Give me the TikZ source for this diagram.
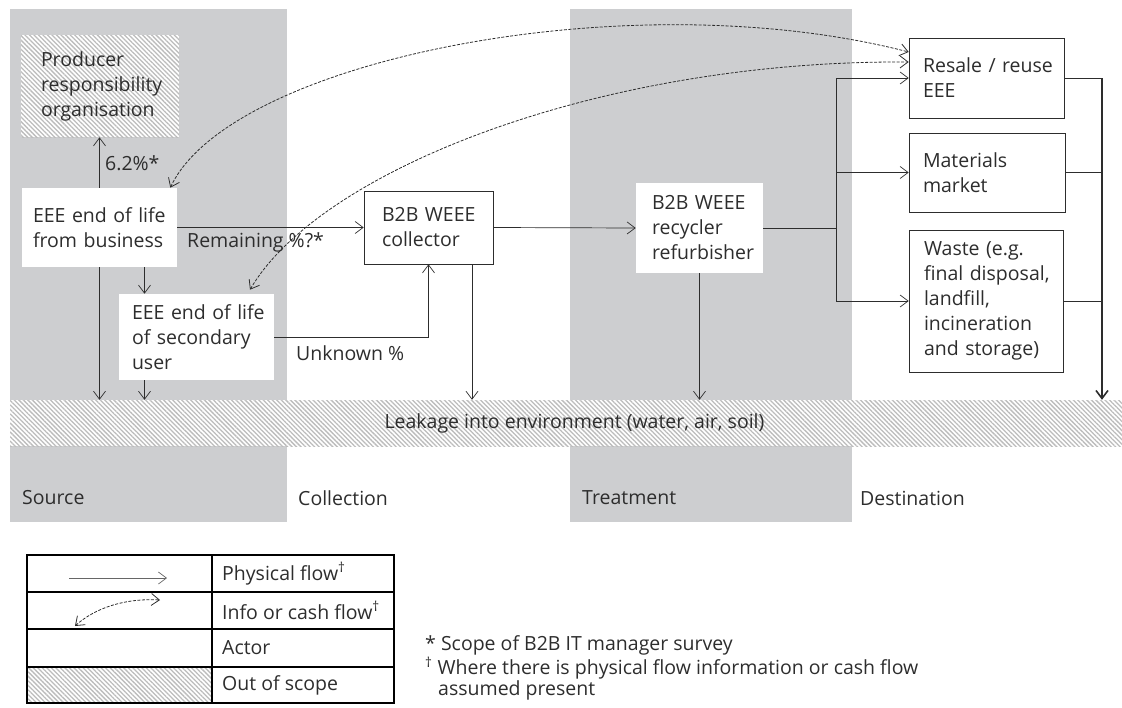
\documentclass[tikz,border=0pt]{standalone}
\usepackage{fontspec}
\setmainfont{Open Sans}
\usetikzlibrary{arrows.meta,patterns.meta}
\definecolor{colgrey}{RGB}{205,206,208}
\definecolor{ink}{RGB}{45,45,45}
\definecolor{hatchgrey}{RGB}{188,188,188}
\begin{document}
\begin{tikzpicture}[x=1pt,y=-1pt,>={Straight Barb[length=8pt,width=12pt]},
  every node/.style={font=\fontsize{19.5}{25}\selectfont, text=ink},
  actor/.style={rectangle, fill=white, draw=ink, line width=0.6pt, align=left, inner sep=0pt},
  greyactor/.style={actor, draw=none},
  hatched/.style={fill=white, postaction={pattern={Lines[angle=-45,distance=3.2pt,line width=1.3pt]}, pattern color=hatchgrey}},
  flow/.style={->, draw=ink, line width=0.7pt},
  cash/.style={<->, draw=ink, line width=0.8pt, dash pattern=on 3pt off 1.5pt},
  lbl/.style={anchor=west, inner sep=0pt}]
  \useasboundingbox (0,0) rectangle (1122,707);
  \clip (0,0) rectangle (1122,707);
  \fill[colgrey] (10,9) rectangle (287,522);
  \fill[colgrey] (570,9) rectangle (852,522);
  \node[lbl] (srcl) at (22,498) {Source};
  \node[lbl] (coll) at (298,498) {Collection};
  \node[lbl] (trtl) at (582,498) {Treatment};
  \node[lbl] (dstl) at (860,498) {Destination};
  \node[greyactor, hatched, minimum width=158pt, minimum height=102pt, text width=118pt] (pro) at (100,86) {Producer\\\mbox{responsibility}\\organisation};
  \node[greyactor, minimum width=155pt, minimum height=79pt, text width=133pt] (bus) at (99.5,227.5) {\mbox{EEE end of life}\\\mbox{from business}};
  \node[greyactor, minimum width=155pt, minimum height=86pt, text width=129pt] (sec) at (196.5,337) {\mbox{EEE end of life}\\\mbox{of secondary}\\user};
  \node[actor, minimum width=129pt, minimum height=73pt, text width=93pt] (col) at (428.5,227.5) {\mbox{B2B WEEE}\\collector};
  \node[greyactor, minimum width=127pt, minimum height=90pt, text width=95pt] (rec) at (699.5,228) {\mbox{B2B WEEE}\\recycler\\\mbox{refurbisher}};
  \node[actor, minimum width=155pt, minimum height=80pt, text width=127pt] (res) at (986.5,78) {\mbox{Resale / reuse}\\EEE};
  \node[actor, minimum width=156pt, minimum height=79pt, text width=128pt] (mat) at (987,172.5) {Materials\\market};
  \node[actor, minimum width=154pt, minimum height=142pt, text width=124pt] (was) at (986,301) {\mbox{Waste (e.g.}\\\mbox{final disposal,}\\landfill,\\\mbox{incineration}\\\mbox{and storage)}};
  \node[hatched, minimum width=1129pt, minimum height=46pt, inner sep=0pt] (leak) at (574.5,423) {Leakage into environment (water, air, soil)};
  \draw[flow] (bus.north) -- (bus.north |- pro.south);
  \node[lbl] (pct) at (105,163) {6.2\%*};
  \draw[flow] (bus.east) -- (col.west);
  \node[lbl] (rem) at (187,242) {Remaining \%?*};
  \draw[flow] ([xshift=45pt]bus.south) coordinate (b2) -- (b2 |- sec.north);
  \draw[flow] (bus.south) -- (bus.south |- leak.north);
  \draw[flow] (sec.south -| b2) -- (b2 |- leak.north);
  \draw[flow] (sec.east) -| (col.south);
  \node[lbl] (unk) at (296,353) {Unknown \%};
  \draw[flow] ([xshift=43.5pt]col.south) coordinate (c2) -- (c2 |- leak.north);
  \draw[flow] (col.east) -- (rec.west);
  \draw[flow] (rec.south) -- (rec.south |- leak.north);
  \coordinate (lj) at (836,228);
  \coordinate (rj) at (1102,78);
  \draw[ink, line width=0.7pt] (rec.east) -- (lj);
  \draw[ink, line width=0.7pt] (lj |- res.west) -- (lj |- was.west);
  \draw[flow] (lj |- res.west) -- (res.west);
  \draw[flow] (lj |- mat.west) -- (mat.west);
  \draw[flow] (lj |- was.west) -- (was.west);
  \draw[ink, line width=0.7pt] (res.east) -- (rj);
  \draw[ink, line width=0.7pt] (mat.east) -- (mat.east -| rj);
  \draw[ink, line width=0.7pt] (was.east) -- (was.east -| rj);
  \draw[->, ink, line width=1.6pt] (rj) -- (rj |- leak.north);
  \draw[cash] ([xshift=-7pt]bus.north east) .. controls (230,60) and (630,-20) .. ([yshift=26pt]res.west);
  \draw[cash] ([xshift=53.5pt,yshift=4pt]sec.north) .. controls (320,170) and (600,60) .. ([yshift=16pt]res.west);
  \path[hatched] (27,667) rectangle (212,703);
  \draw[black, line width=1.5pt] (27,555) rectangle (394,703);
  \draw[black, line width=1.5pt] (27,592) -- (394,592);
  \draw[black, line width=1.5pt] (27,629) -- (394,629);
  \draw[black, line width=1.5pt] (27,667) -- (394,667);
  \draw[black, line width=1.5pt] (212,555) -- (212,703);
  \coordinate (pf1) at (69,578);
  \coordinate (pf2) at (167,578);
  \draw[flow, draw=black!60] (pf1) -- (pf2);
  \coordinate (ic1) at (75,626);
  \coordinate (ic2) at (160,600);
  \draw[cash] (ic1) .. controls (95,608) and (125,598) .. (ic2);
  \node[lbl] (lg1) at (222,573.5) {Physical flow\textsuperscript{†}};
  \node[lbl] (lg2) at (222,610.5) {Info or cash flow\textsuperscript{†}};
  \node[lbl] (lg3) at (222,648) {Actor};
  \node[lbl] (lg4) at (222,685) {Out of scope};
  \node[lbl] (fn1) at (425,645) {* Scope of B2B IT manager survey};
  \node[lbl] (fn2) at (425,668) {\textsuperscript{†} Where there is physical flow information or cash flow};
  \node[lbl] (fn3) at (438,690) {assumed present};
\end{tikzpicture}
\end{document}
